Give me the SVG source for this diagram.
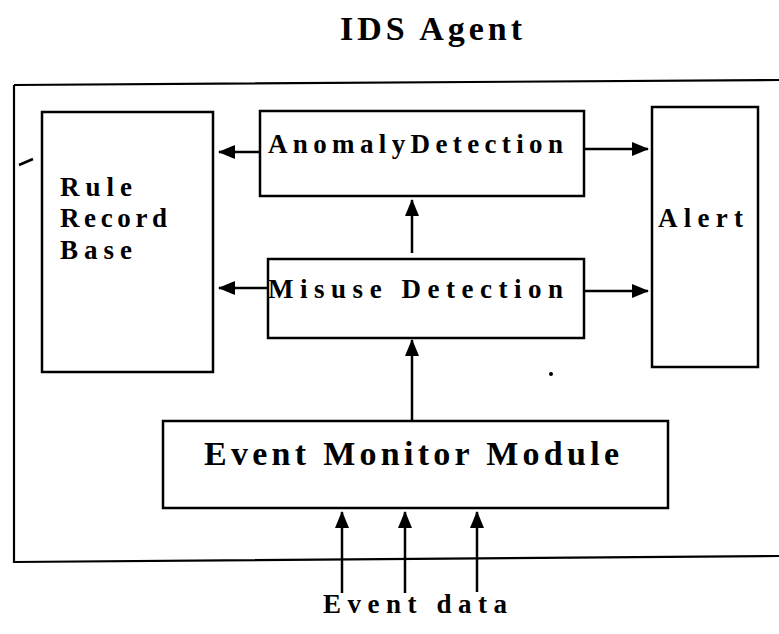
<svg xmlns="http://www.w3.org/2000/svg" width="779" height="634" viewBox="0 0 779 634">
<defs>
<style>
.box{fill:#fff;stroke:#000;stroke-width:2.5}
.t{font-family:"Liberation Serif","DejaVu Serif",serif;font-weight:bold;fill:#000}
.c{stroke:#000;stroke-width:2.5;fill:none;marker-end:url(#ah)}
</style>
<marker id="ah" markerUnits="userSpaceOnUse" markerWidth="18" markerHeight="14" refX="16" refY="7" orient="auto">
<path d="M0,0 L17,7 L0,14 Z" fill="#000"/>
</marker>
</defs>
<rect width="779" height="634" fill="#fff"/>
<text class="t" x="340" y="40" font-size="34" textLength="182" lengthAdjust="spacing">IDS Agent</text>
<g id="agent">
<path d="M14,85 L779,80 M14,85 L14,562 L779,556" fill="none" stroke="#000" stroke-width="2.2"/>
<path d="M19,165 L33,159" stroke="#000" stroke-width="2.5"/>
<circle cx="551" cy="374" r="2" fill="#000"/>
</g>
<g id="rule-record-base">
<rect class="box" x="42" y="112" width="171" height="260"/>
<text class="t" x="60" y="196" font-size="27" textLength="72" lengthAdjust="spacing">Rule</text>
<text class="t" x="60" y="227" font-size="27" textLength="107" lengthAdjust="spacing">Record</text>
<text class="t" x="60" y="259" font-size="27" textLength="72" lengthAdjust="spacing">Base</text>
</g>
<g id="anomaly-detection">
<rect class="box" x="260" y="111" width="324" height="85"/>
<text class="t" x="268" y="153" font-size="27" textLength="295" lengthAdjust="spacing">AnomalyDetection</text>
</g>
<g id="misuse-detection">
<rect class="box" x="268" y="259" width="316" height="79"/>
<text class="t" x="268" y="298" font-size="27" textLength="295" lengthAdjust="spacing">Misuse Detection</text>
</g>
<g id="alert">
<rect class="box" x="652" y="107" width="106" height="260"/>
<text class="t" x="658" y="227" font-size="27" textLength="85" lengthAdjust="spacing">Alert</text>
</g>
<g id="event-monitor">
<rect class="box" x="163" y="421" width="505" height="87"/>
<text class="t" x="204" y="465" font-size="34" textLength="415" lengthAdjust="spacing">Event Monitor Module</text>
</g>
<text class="t" x="323" y="613" font-size="27" textLength="184" lengthAdjust="spacing">Event data</text>
<g id="connectors">
<line class="c" x1="260" y1="152" x2="219" y2="152"/>
<line class="c" x1="268" y1="288" x2="219" y2="288"/>
<line class="c" x1="584" y1="149" x2="648" y2="149"/>
<line class="c" x1="584" y1="291" x2="648" y2="291"/>
<line class="c" x1="412" y1="253" x2="412" y2="200"/>
<line class="c" x1="412" y1="421" x2="412" y2="340"/>
<line class="c" x1="342" y1="593" x2="342" y2="512"/>
<line class="c" x1="405" y1="593" x2="405" y2="512"/>
<line class="c" x1="477" y1="592" x2="477" y2="512"/>
</g>
</svg>
